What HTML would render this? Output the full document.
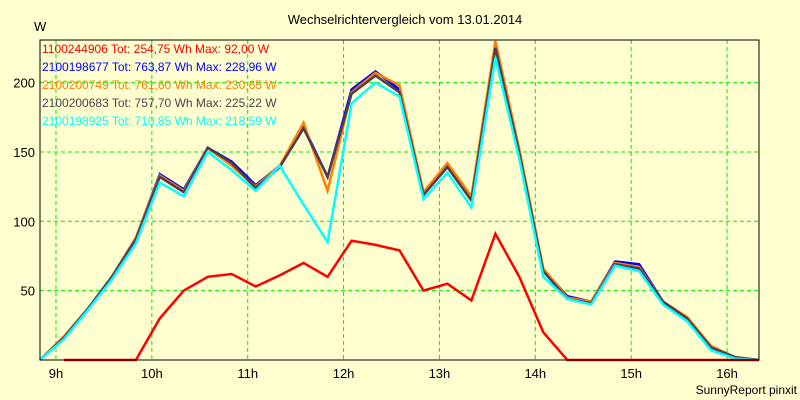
<!DOCTYPE html>
<html><head><meta charset="utf-8"><style>
body{margin:0;background:#ffffd0;}
svg{display:block;font-family:"Liberation Sans",Arial,sans-serif;}
</style></head><body>
<svg width="800" height="400" viewBox="0 0 800 400">
<rect width="800" height="400" fill="#ffffd0"/>
<text x="405" y="24" font-size="13" text-anchor="middle">Wechselrichtervergleich vom 13.01.2014</text>
<text x="34" y="31" font-size="13">W</text>
<text x="797" y="394" font-size="12" text-anchor="end">SunnyReport pinxit</text>
<g id="grid"></g>
<g id="series"></g>
<rect x="40" y="40" width="719" height="320" fill="none" stroke="#000" stroke-width="1"/>
<g id="legend"></g>
<g id="axes"></g>
</svg>
<script>
const hourTicks=[9,10,11,12,13,14,15,16];
const yTicks=[50,100,150,200];
const startHour=8+50/60;
const stepHours=0.25;
const red=[0,0,0,0,0,30,50,60,62,53,61,70,60,86,83,79,50,55,43,91,60,20,0,0,0,0,0,0,0,0,0];
const blue=[0,17,37,60,88,134,123,153,143,126,140,168,132,195,208,195,120,140,117,228,150,65,46,42,71,69,42,30,10,2,0];
const orange=[0,17,37,60,88,133,122,153,140,125,140,171,122,193,207,198,121,142,118,230,152,66,45,42,70,67,42,31,10,2,0];
const dark=[0,16,37,60,87,132,121,153,142,124,139,167,132,192,205,193,119,139,115,225,149,64,44,41,69,66,42,30,9,2,0];
const cyan=[0,15,36,58,84,128,118,150,137,122,140,112,85,185,200,190,116,135,110,218,145,60,44,40,68,64,40,28,7,1,0];
const legendLabels=["1100244906 Tot: 254,75 Wh Max: 92,00 W","2100198677 Tot: 763,87 Wh Max: 228,96 W","2100200749 Tot: 761,60 Wh Max: 230,65 W","2100200683 Tot: 757,70 Wh Max: 225,22 W","2100198925 Tot: 710,85 Wh Max: 218,59 W"];
const NS="http://www.w3.org/2000/svg";
const X0=40,X1=759,Y0=360,Y1=40,H0=startHour,H1=8+50/60+30*0.25;
function xh(h){return X0+(h-H0)/(H1-H0)*(X1-X0);}
function yv(v){return Y0-v*(Y0-Y1)/230.7;}
const grid=document.getElementById('grid'),axes=document.getElementById('axes');
hourTicks.forEach(h=>{
 const l=document.createElementNS(NS,'line');
 
 
 l.setAttribute('x1',xh(h));l.setAttribute('x2',xh(h));l.setAttribute('y1',Y1);l.setAttribute('y2',Y0);
 l.setAttribute('stroke','#00ee00');l.setAttribute('stroke-dasharray','4,3');grid.appendChild(l);
 const t=document.createElementNS(NS,'text');
 
 
 t.setAttribute('x',xh(h));t.setAttribute('y',378);t.setAttribute('font-size','13');t.setAttribute('text-anchor','middle');
 t.textContent=h+'h';axes.appendChild(t);
});
yTicks.forEach(v=>{
 const l=document.createElementNS(NS,'line');
 
 
 l.setAttribute('x1',X0);l.setAttribute('x2',X1);l.setAttribute('y1',yv(v));l.setAttribute('y2',yv(v));
 l.setAttribute('stroke','#00ee00');l.setAttribute('stroke-dasharray','4,3');grid.appendChild(l);
 const t=document.createElementNS(NS,'text');
 
 
 t.setAttribute('x',35);t.setAttribute('y',yv(v)+5);t.setAttribute('font-size','13');t.setAttribute('text-anchor','end');
 t.textContent=v;axes.appendChild(t);
});
const seriesG=document.getElementById('series');
const sets=[[red,'#ff0000',1],[blue,'#0000ff',0],[orange,'#ff8000',0],[dark,'#503c50',0],[cyan,'#00ffff',0]];
const draw=[1,2,3,4,0];
draw.forEach(i=>{
 const [d,c,skip]=sets[i];
 let pts=[];
 d.forEach((v,k)=>{if(k>=skip)pts.push(xh(H0+k*stepHours).toFixed(1)+','+yv(v).toFixed(1));});
 const p=document.createElementNS(NS,'polyline');
 
 
 p.setAttribute('points',pts.join(' '));p.setAttribute('fill','none');p.setAttribute('stroke',c);p.setAttribute('stroke-width','2.5');
 seriesG.appendChild(p);
});
const lg=document.getElementById('legend');
const lcol=['#ff0000','#0000ff','#ff8000','#503c50','#00ffff'];
legendLabels.forEach((s,i)=>{
 const t=document.createElementNS(NS,'text');
 
 
 t.setAttribute('x',42);t.setAttribute('y',53+i*18);t.setAttribute('font-size','12');t.setAttribute('fill',lcol[i]);
 t.textContent=s;lg.appendChild(t);
});
</script>
</body></html>
